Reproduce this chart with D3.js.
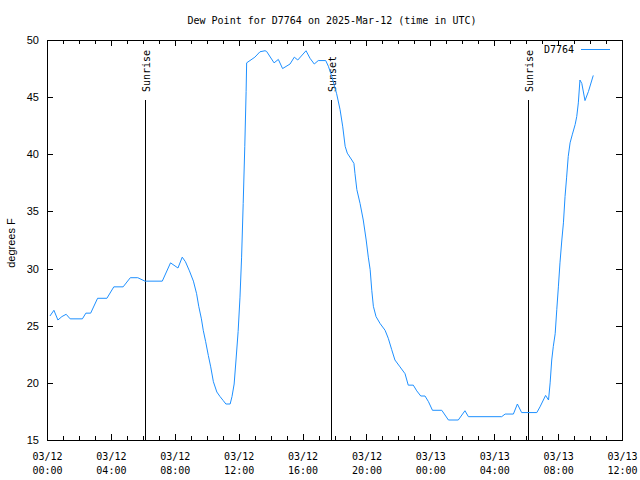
<!DOCTYPE html>
<html>
<head>
<meta charset="utf-8">
<script src="https://cdn.jsdelivr.net/npm/d3@7"></script>
<style>
html,body{margin:0;padding:0;background:#fff;}
svg{display:block;}
</style>
</head>
<body>
<svg id="chart" width="640" height="480"></svg>
<script>
const chartTitle = "Dew Point for D7764 on 2025-Mar-12 (time in UTC)";
const yLabel = "degrees F";
const seriesName = "D7764";
const xDomain = ["03-12 00:00", "03-13 12:00"];
const yDomain = [15, 50];
const yTicks = [15, 20, 25, 30, 35, 40, 45, 50];
const xTickHours = 4;

const times = [
  "03-12 00:11","03-12 00:26","03-12 00:41","03-12 00:56","03-12 01:12","03-12 01:27","03-12 02:13","03-12 02:26","03-12 02:44","03-12 03:10",
  "03-12 03:45","03-12 04:11","03-12 04:46","03-12 05:13","03-12 05:41","03-12 06:08","03-12 07:13","03-12 07:44","03-12 08:12","03-12 08:28",
  "03-12 08:40","03-12 08:55","03-12 09:10","03-12 09:22","03-12 09:30","03-12 09:40","03-12 09:47","03-12 09:56","03-12 10:06","03-12 10:15",
  "03-12 10:25","03-12 10:38","03-12 10:50","03-12 11:02","03-12 11:12","03-12 11:28","03-12 11:35","03-12 11:43","03-12 11:50","03-12 11:58",
  "03-12 12:05","03-12 12:11","03-12 12:17","03-12 12:23","03-12 12:28","03-12 12:30","03-12 13:01","03-12 13:20","03-12 13:39","03-12 13:45",
  "03-12 14:13","03-12 14:29","03-12 14:45","03-12 15:13","03-12 15:29","03-12 15:42","03-12 16:13","03-12 16:28","03-12 16:44","03-12 16:59",
  "03-12 17:27","03-12 17:37","03-12 17:50","03-12 18:08","03-12 18:21","03-12 18:31","03-12 18:40","03-12 18:48","03-12 19:05","03-12 19:13",
  "03-12 19:17","03-12 19:24","03-12 19:36","03-12 19:48","03-12 19:59","03-12 20:07","03-12 20:14","03-12 20:20","03-12 20:26","03-12 20:36",
  "03-12 20:51","03-12 21:10","03-12 21:22","03-12 21:35","03-12 21:47","03-12 22:06","03-12 22:25","03-12 22:37","03-12 22:56","03-12 23:09",
  "03-12 23:24","03-12 23:40","03-12 23:53","03-13 00:08","03-13 00:43","03-13 01:08","03-13 01:45","03-13 02:10","03-13 02:23","03-13 04:28",
  "03-13 04:41","03-13 05:12","03-13 05:27","03-13 05:43","03-13 06:40","03-13 06:52","03-13 07:13","03-13 07:24","03-13 07:30","03-13 07:36",
  "03-13 07:42","03-13 07:49","03-13 07:55","03-13 08:01","03-13 08:07","03-13 08:14","03-13 08:20","03-13 08:26","03-13 08:32","03-13 08:38",
  "03-13 08:45","03-13 08:53","03-13 09:04","03-13 09:10","03-13 09:16","03-13 09:22","03-13 09:29","03-13 09:41","03-13 09:54","03-13 10:12"
];
const dewPoint = [
  25.85,26.35,25.5,25.8,26.0,25.6,25.6,26.1,26.1,27.4,
  27.4,28.4,28.4,29.2,29.2,28.9,28.9,30.5,30.05,31.0,
  30.6,29.8,28.9,27.8,26.7,25.6,24.6,23.6,22.4,21.4,
  20.1,19.2,18.8,18.45,18.15,18.15,18.8,19.9,22.0,24.5,
  27.5,31.0,35.7,40.7,45.5,48.0,48.5,48.97,49.06,49.0,
  48.0,48.3,47.5,47.9,48.5,48.25,49.06,48.4,47.9,48.2,
  48.2,47.7,46.8,45.3,43.9,42.4,40.7,40.1,39.5,39.2,
  38.3,36.9,35.7,34.25,32.5,31.0,29.9,28.1,26.7,25.8,
  25.2,24.6,23.9,22.9,22.0,21.4,20.8,19.8,19.8,19.3,
  18.85,18.85,18.35,17.6,17.6,16.75,16.75,17.56,17.04,17.04,
  17.27,17.27,18.15,17.4,17.4,17.9,18.9,18.5,20.0,22.0,
  23.2,24.3,26.4,28.4,30.5,32.5,34.0,36.3,38.0,39.8,
  41.0,41.7,42.6,43.3,44.5,46.5,46.2,44.7,45.5,46.9
];
const sunEvents = ["Sunrise", "Sunset", "Sunrise"];
const sunTimes = ["03-12 06:08", "03-12 17:47", "03-13 06:07"];
const sunLineTop = 44.75;

const parse = d3.utcParse("%Y-%m-%d %H:%M");
const toDate = s => parse("2025-" + s);

const W = 640, H = 480;
const m = {left: 47, right: 622, top: 40, bottom: 440};
const mono = "'DejaVu Sans Mono', monospace";
const sans = "'Liberation Sans', Arial, sans-serif";
const lineColor = "#1e90ff";

const svg = d3.select("#chart");
const x = d3.scaleUtc().domain(xDomain.map(toDate)).range([m.left, m.right]);
const y = d3.scaleLinear().domain(yDomain).range([m.bottom, m.top]);

const data = times.map((t, i) => ({t: toDate(t), v: dewPoint[i]}));

// title
svg.append("text").attr("x", 332).attr("y", 24).attr("text-anchor", "middle")
  .attr("font-family", mono).attr("font-size", 10).attr("fill", "#000").text(chartTitle);

// y label
svg.append("text").attr("transform", "translate(15,243) rotate(-90)").attr("text-anchor", "middle")
  .attr("font-family", sans).attr("font-size", 11).attr("fill", "#000").text(yLabel);

const majorX = d3.utcHour.every(xTickHours).range(x.domain()[0], d3.utcHour.offset(x.domain()[1], 1));
const minorX = d3.utcHour.every(1).range(x.domain()[0], d3.utcHour.offset(x.domain()[1], 1));

function styleAxis(g) {
  g.select(".domain").remove();
  g.selectAll("line").attr("stroke", "#000").attr("shape-rendering", "crispEdges");
}

// minor x ticks bottom & top
svg.append("g").attr("transform", `translate(0,${m.bottom})`)
  .call(d3.axisBottom(x).tickValues(minorX).tickSizeInner(-4).tickSizeOuter(0).tickFormat(""))
  .call(styleAxis).call(g => g.selectAll("text").remove());
svg.append("g").attr("transform", `translate(0,${m.top})`)
  .call(d3.axisTop(x).tickValues(minorX).tickSizeInner(-4).tickSizeOuter(0).tickFormat(""))
  .call(styleAxis).call(g => g.selectAll("text").remove());

// major x ticks with labels
const fmtDate = d3.utcFormat("%m/%d"), fmtTime = d3.utcFormat("%H:%M");
const xAxisG = svg.append("g").attr("transform", `translate(0,${m.bottom})`)
  .call(d3.axisBottom(x).tickValues(majorX).tickSizeInner(-6).tickSizeOuter(0).tickPadding(14).tickFormat(fmtDate))
  .call(styleAxis);
xAxisG.selectAll("text").attr("font-family", mono).attr("font-size", 10).attr("fill", "#000")
  .each(function(d) {
    const t = d3.select(this);
    t.text(null).attr("dy", null).attr("y", 20);
    t.append("tspan").attr("x", 0).attr("y", 20).text(fmtDate(d));
    t.append("tspan").attr("x", 0).attr("y", 34).text(fmtTime(d));
  });
svg.append("g").attr("transform", `translate(0,${m.top})`)
  .call(d3.axisTop(x).tickValues(majorX).tickSizeInner(-6).tickSizeOuter(0).tickFormat(""))
  .call(styleAxis).call(g => g.selectAll("text").remove());

// y axes
const yAxisG = svg.append("g").attr("transform", `translate(${m.left},0)`)
  .call(d3.axisLeft(y).tickValues(yTicks).tickSizeInner(-6).tickSizeOuter(0).tickPadding(8).tickFormat(d3.format("d")))
  .call(styleAxis);
yAxisG.selectAll("text").attr("font-family", sans).attr("font-size", 11).attr("fill", "#000");
svg.append("g").attr("transform", `translate(${m.right},0)`)
  .call(d3.axisRight(y).tickValues(yTicks).tickSizeInner(-6).tickSizeOuter(0).tickFormat(""))
  .call(styleAxis).call(g => g.selectAll("text").remove());

// frame
svg.append("rect").attr("x", m.left + 0.5).attr("y", m.top + 0.5)
  .attr("width", m.right - m.left).attr("height", m.bottom - m.top)
  .attr("fill", "none").attr("stroke", "#000").attr("shape-rendering", "crispEdges");

// sun lines
sunTimes.forEach((s, i) => {
  const sx = Math.round(x(toDate(s))) + 0.5;
  svg.append("line").attr("x1", sx).attr("x2", sx).attr("y1", y(sunLineTop)).attr("y2", m.bottom)
    .attr("stroke", "#000").attr("stroke-width", 1).attr("shape-rendering", "crispEdges");
  svg.append("text").attr("transform", `translate(${sx + 4},${y(sunLineTop) - 8}) rotate(-90)`)
    .attr("text-anchor", "start").attr("font-family", mono).attr("font-size", 10).attr("fill", "#000")
    .text(sunEvents[i]);
});

// data line
const line = d3.line().x(d => x(d.t)).y(d => y(d.v));
svg.append("path").datum(data).attr("d", line).attr("fill", "none")
  .attr("stroke", lineColor).attr("stroke-width", 1);

// legend
svg.append("text").attr("x", 574).attr("y", 53).attr("text-anchor", "end")
  .attr("font-family", mono).attr("font-size", 10).attr("fill", "#000").text(seriesName);
svg.append("line").attr("x1", 581).attr("x2", 610).attr("y1", 49.5).attr("y2", 49.5)
  .attr("stroke", lineColor).attr("stroke-width", 1);
</script>
</body>
</html>
